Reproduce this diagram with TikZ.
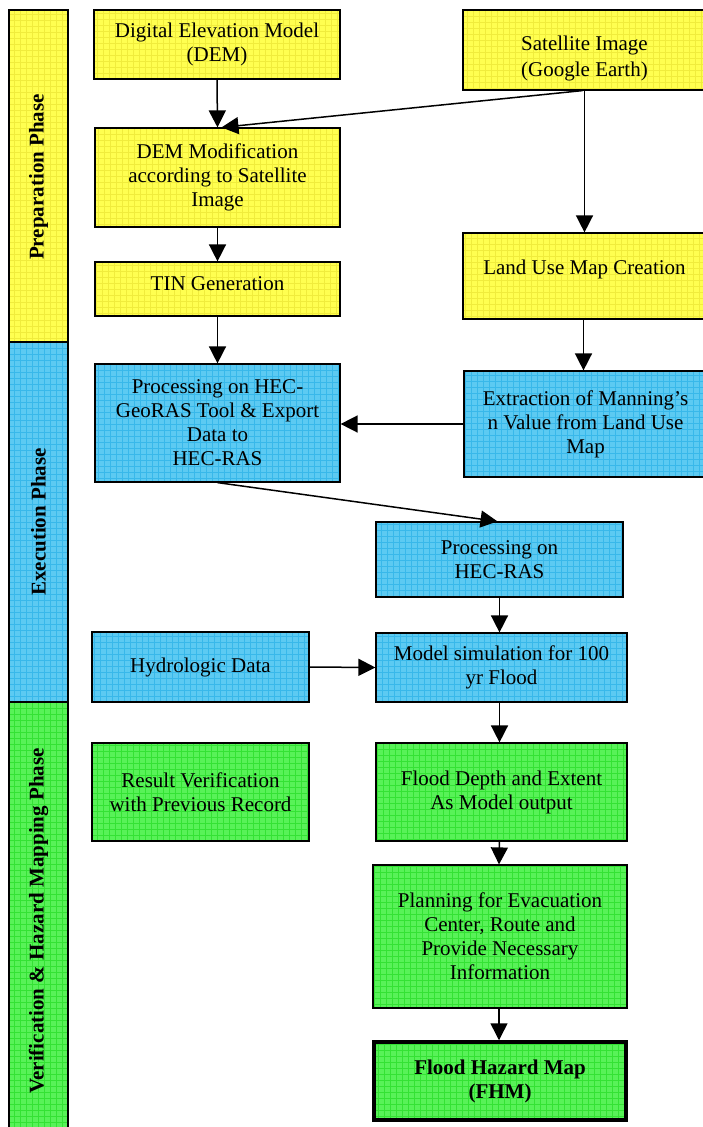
\documentclass[tikz,border=0pt]{standalone}
\usepackage{fontspec}
\setmainfont{Liberation Serif}
\usetikzlibrary{arrows.meta,calc}
\definecolor{yel}{RGB}{255,255,80}
\definecolor{yelgrid}{RGB}{240,236,60}
\definecolor{blu}{RGB}{92,202,242}
\definecolor{blugrid}{RGB}{56,184,234}
\definecolor{gre}{RGB}{88,242,88}
\definecolor{gregrid}{RGB}{52,226,52}
\tikzset{
  boxbase/.style={draw=black, line width=1.2pt, inner sep=0pt, align=center,
    font=\fontsize{21}{24}\selectfont},
  yelbox/.style={boxbase, fill=yel, path picture={\draw[yelgrid,line width=0.5pt]
    (path picture bounding box.south west) grid[step=6pt] (path picture bounding box.north east);}},
  blubox/.style={boxbase, fill=blu, path picture={\draw[blugrid,line width=0.5pt]
    (path picture bounding box.south west) grid[step=6pt] (path picture bounding box.north east);}},
  grebox/.style={boxbase, fill=gre, path picture={\draw[gregrid,line width=0.5pt]
    (path picture bounding box.south west) grid[step=6pt] (path picture bounding box.north east);}},
  phaselabel/.style={rotate=90, font=\fontsize{21}{24}\selectfont\bfseries, inner sep=0pt},
  arr/.style={-{Triangle[length=17pt,width=17pt]}, line width=1.5pt},
}
\begin{document}
\begin{tikzpicture}[x=1pt,y=-1pt]
\useasboundingbox (0,0) rectangle (703,1127);
\fill[white] (0,0) rectangle (703,1127);
% phase bars
\node[yelbox, minimum width=59pt, minimum height=332pt] (bar1) at (38.5,176) {};
\node[blubox, minimum width=59pt, minimum height=360pt] (bar2) at (38.5,522) {};
\node[grebox, minimum width=59pt, minimum height=432pt] (bar3) at (38.5,918) {};
\node[phaselabel] (lab1) at (38.5,177) {Preparation Phase};
\node[phaselabel] (lab2) at (38.5,522) {Execution Phase};
\node[phaselabel] (lab3) at (38.5,921) {Verification \& Hazard Mapping Phase};
% boxes
\node[yelbox, minimum width=246pt, minimum height=69pt] (dem) at (217,44.5) {Digital Elevation Model\\(DEM)};
\node[yelbox, minimum width=243pt, minimum height=80pt] (sat) at (584.5,50) {\rule{0pt}{31pt}Satellite Image\\[2pt](Google Earth)};
\node[yelbox, minimum width=245pt, minimum height=99pt] (demmod) at (217.5,177.5) {DEM Modification\\according to Satellite\\Image};
\node[yelbox, minimum width=245pt, minimum height=54pt] (tin) at (217.5,289) {TIN Generation\\[-14pt]};
\node[yelbox, minimum width=243pt, minimum height=86pt] (land) at (584.5,276) {Land Use Map Creation\\[-6pt]};
\node[blubox, minimum width=245pt, minimum height=118pt] (geo) at (217.5,423) {Processing on HEC-\\GeoRAS Tool \& Export\\Data to\\HEC-RAS};
\node[blubox, minimum width=243pt, minimum height=106pt] (man) at (585.5,424) {Extraction of Manning's\\n Value from Land Use\\Map};
\node[blubox, minimum width=247pt, minimum height=75pt] (hecras) at (499.5,559.5) {Processing on\\HEC-RAS};
\node[blubox, minimum width=217pt, minimum height=70pt] (hyd) at (200.5,667) {Hydrologic Data};
\node[blubox, minimum width=251pt, minimum height=69pt] (sim) at (501.5,667.5) {Model simulation for 100\\yr Flood};
\node[grebox, minimum width=217pt, minimum height=98pt] (res) at (200.5,792) {Result Verification\\with Previous Record};
\node[grebox, minimum width=251pt, minimum height=98pt] (depth) at (501.5,792) {Flood Depth and Extent\\As Model output};
\node[grebox, minimum width=254pt, minimum height=143pt] (plan) at (500,936.5) {Planning for Evacuation\\Center, Route and\\Provide Necessary\\Information};
\node[grebox, line width=3.5pt, minimum width=252pt, minimum height=78pt] (fhm) at (500,1081) {\bfseries Flood Hazard Map\\\bfseries (FHM)};
% connectors
\draw[arr] (dem.south) -- (demmod.north);
\draw[arr] ([xshift=-2pt]sat.south) -- ([xshift=4pt]demmod.north);
\draw[arr] (sat.south) -- (land.north);
\draw[arr] (demmod.south) -- (tin.north);
\draw[arr] (tin.south) -- (geo.north);
\draw[arr] ([xshift=-1pt]land.south) -- ([xshift=-2pt]man.north);
\draw[arr] (man.west) -- (man.west -| geo.east);
\draw[arr] (geo.south) -- ([xshift=-2pt]hecras.north);
\draw[arr] (hecras.south) -- (hecras.south |- sim.north);
\draw[arr] (hyd.east) -- (sim.west);
\draw[arr] ([xshift=-2pt]sim.south) -- ([xshift=-2pt]depth.north);
\draw[arr] ([xshift=-2pt]depth.south) -- ([xshift=-1pt]plan.north);
\draw[arr] ([xshift=-1pt]plan.south) -- ([xshift=-1pt]fhm.north);
\end{tikzpicture}
\end{document}
